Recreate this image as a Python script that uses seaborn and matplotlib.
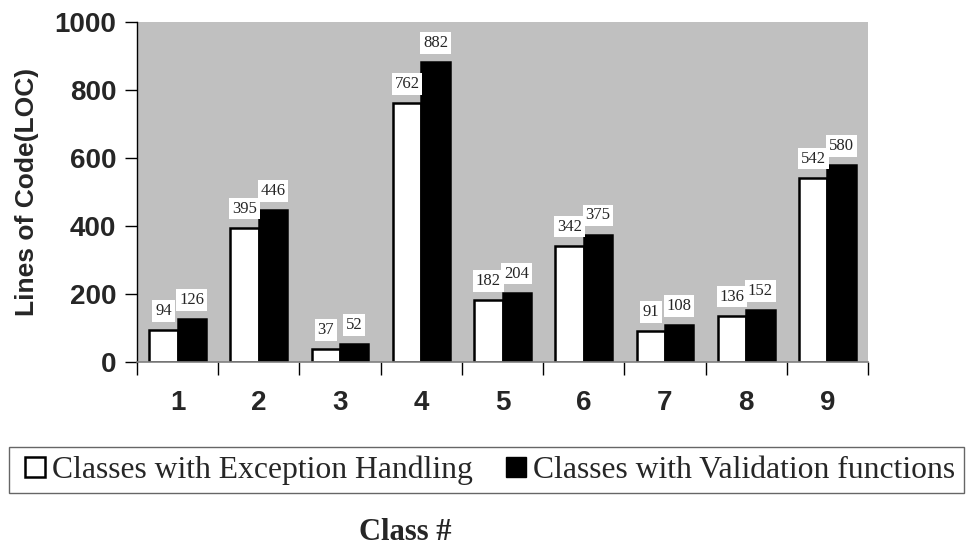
import matplotlib
matplotlib.use("Agg")
import matplotlib.pyplot as plt
from matplotlib.lines import Line2D
import seaborn as sns
import pandas as pd

classes = ["1", "2", "3", "4", "5", "6", "7", "8", "9"]
exception_loc = [94, 395, 37, 762, 182, 342, 91, 136, 542]
validation_loc = [126, 446, 52, 882, 204, 375, 108, 152, 580]
series_names = ["Classes with Exception Handling", "Classes with Validation functions"]

df = pd.DataFrame({
    "Class": classes * 2,
    "LOC": exception_loc + validation_loc,
    "Series": [series_names[0]] * len(classes) + [series_names[1]] * len(classes),
})

sns.set_theme(style="white")
plt.rcParams["font.family"] = ["Liberation Sans", "DejaVu Sans"]

fig = plt.figure(figsize=(9.71, 5.46), dpi=100)
ax = fig.add_axes([137 / 971, 184 / 546, 731 / 971, 340 / 546])
ax.set_facecolor("#C0C0C0")

sns.barplot(data=df, x="Class", y="LOC", hue="Series", order=classes,
            hue_order=series_names, palette=["white", "black"],
            width=0.7, edgecolor="black", linewidth=1.8, ax=ax, legend=False)

for container in ax.containers:
    ax.bar_label(container, padding=8, fontsize=12, family="Liberation Serif",
                 bbox=dict(facecolor="white", edgecolor="none", pad=2))

ax.set_ylim(0, 1000)
ax.set_xlim(-0.5, len(classes) - 0.5)
ax.set_yticks([0, 200, 400, 600, 800, 1000])
ax.tick_params(axis="y", which="major", direction="out", length=9, width=1,
               color="black", labelsize=20, pad=6, left=True)
for lbl in ax.get_yticklabels():
    lbl.set_fontweight("bold")

# category boundaries as minor ticks, labels on hidden major ticks
ax.set_xticks([i - 0.5 for i in range(len(classes) + 1)], minor=True)
ax.tick_params(axis="x", which="minor", direction="out", length=9, width=1,
               color="black", bottom=True)
ax.tick_params(axis="x", which="major", length=0, labelsize=20, pad=20)
for lbl in ax.get_xticklabels():
    lbl.set_fontweight("bold")

ax.set_xlabel("")
ax.set_ylabel("Lines of Code(LOC)", fontsize=19, fontweight="bold")
ax.yaxis.set_label_coords(-0.134, 0.5)

for side in ["top", "right"]:
    ax.spines[side].set_visible(False)
ax.spines["left"].set_color("black")
ax.spines["left"].set_linewidth(1)
ax.spines["bottom"].set_color("#808080")
ax.spines["bottom"].set_linewidth(1.2)

handles = [
    Line2D([], [], linestyle="none", marker="s", markersize=15,
           markerfacecolor="white", markeredgecolor="black", markeredgewidth=1.8),
    Line2D([], [], linestyle="none", marker="s", markersize=15,
           markerfacecolor="black", markeredgecolor="black"),
]
leg = fig.legend(handles, series_names, loc="center left",
                 bbox_to_anchor=(9 / 971, 1 - 470 / 546), ncol=2,
                 prop={"family": "Liberation Serif", "size": 22.8},
                 frameon=True, fancybox=False, handlelength=1.1,
                 handletextpad=0.0, columnspacing=0.8, borderpad=0.27,
                 borderaxespad=0)
leg.get_frame().set_edgecolor("#404040")
leg.get_frame().set_linewidth(1)

fig.text(405 / 971, 1 - 540 / 546, "Class #", ha="center", va="baseline",
         fontsize=22, fontweight="bold", family="Liberation Serif")

fig.savefig("out.png", dpi=100)
